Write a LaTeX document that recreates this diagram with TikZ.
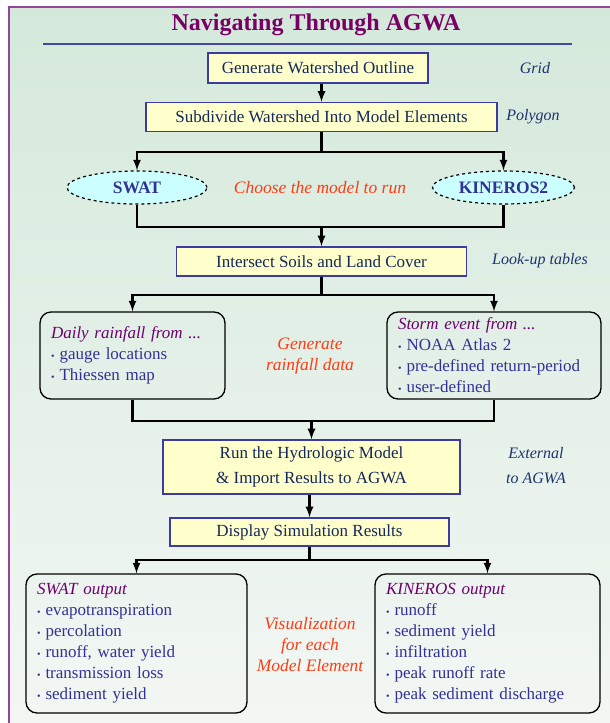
\documentclass[tikz,border=0pt]{standalone}
\usepackage{fontspec}
\setmainfont{Liberation Serif}
\usetikzlibrary{shapes.geometric,arrows,positioning}

\definecolor{framecol}{RGB}{150,70,150}
\definecolor{bgtop}{RGB}{212,233,219}
\definecolor{bgbottom}{RGB}{243,247,244}
\definecolor{titlecol}{RGB}{120,0,100}
\definecolor{rulecol}{RGB}{70,70,170}
\definecolor{boxfill}{RGB}{255,255,204}
\definecolor{boxline}{RGB}{60,60,160}
\definecolor{boxtext}{RGB}{20,40,90}
\definecolor{ellfill}{RGB}{204,255,255}
\definecolor{elltext}{RGB}{50,50,150}
\definecolor{notecol}{RGB}{30,50,110}
\definecolor{redcol}{RGB}{255,60,20}
\definecolor{headcol}{RGB}{110,0,110}
\definecolor{itemcol}{RGB}{50,50,150}

\newcommand{\headtxt}[1]{{\color{headcol}\itshape #1}}
\newcommand{\itm}[1]{{\color{itemcol}{\fontsize{10}{10}\selectfont\textbullet}\hspace{5pt}#1}}

\begin{document}
\begin{tikzpicture}[x=1pt,y=-1pt,>=latex,
    wire/.style={line width=2.6pt},
    stepbox/.style={draw=boxline,line width=1.6pt,fill=boxfill,text=boxtext,
      font=\fontsize{17}{25}\selectfont,inner sep=0pt,align=center},
    modelell/.style={ellipse,draw=black,dashed,line width=1.2pt,fill=ellfill,
      text=elltext,font=\fontsize{17.5}{19}\selectfont\bfseries,inner sep=0pt,
      minimum width=140pt,minimum height=33pt},
    listbox/.style={draw=black,line width=1.3pt,rounded corners=11pt,inner xsep=11pt,
      inner ysep=0pt,align=left,font=\fontsize{17}{21}\selectfont},
    sidenote/.style={text=notecol,font=\fontsize{16}{25}\selectfont\itshape,align=center},
    rednote/.style={text=redcol,font=\fontsize{17.5}{21}\selectfont\itshape,align=center}
  ]
  \useasboundingbox (0,0) rectangle (610,723);
  \shade[top color=bgtop,bottom color=bgbottom] (9,7) rectangle (616,730);
  \draw[framecol,line width=1.8pt] (9,730) -- (9,7) -- (616,7);

  \node[text=titlecol,font=\fontsize{24}{26}\selectfont\bfseries] (title) at (316,25) {Navigating Through AGWA};
  \draw[rulecol,line width=1.2pt] (43,44) -- (572,44);

  \node[stepbox,minimum width=220pt,minimum height=30pt] (outline) at (318,68) {Generate Watershed Outline};
  \node[stepbox,minimum width=351pt,minimum height=29pt] (subdiv) at (321.5,117) {Subdivide Watershed Into Model Elements};
  \node[modelell] (swat) at (137,187.5) {SWAT};
  \node[modelell,minimum width=142pt] (kineros) at (503.5,187.5) {KINEROS2};
  \node[stepbox,minimum width=290pt,minimum height=29pt] (soils) at (321.5,261.5) {Intersect Soils and Land Cover};
  \node[listbox,minimum width=185pt,minimum height=87pt,text width=163pt] (daily) at (132.5,355.5)
    {\headtxt{Daily rainfall from ...}\\ \itm{gauge locations}\\ \itm{Thiessen map}};
  \node[listbox,minimum width=214pt,minimum height=87pt,text width=192pt] (storm) at (494,355.5)
    {\headtxt{Storm event from ...}\\ \itm{NOAA Atlas 2}\\ \itm{pre-defined return-period}\\ \itm{user-defined}};
  \node[stepbox,minimum width=297pt,minimum height=54pt] (runmod) at (311.5,467)
    {Run the Hydrologic Model\\ \& Import Results to AGWA};
  \node[stepbox,minimum width=279pt,minimum height=28pt] (display) at (309.5,532) {Display Simulation Results};
  \node[listbox,minimum width=221pt,minimum height=139pt,text width=199pt] (swatout) at (136.5,643.5)
    {\headtxt{SWAT output}\\ \itm{evapotranspiration}\\ \itm{percolation}\\ \itm{runoff, water yield}\\
     \itm{transmission loss}\\ \itm{sediment yield}};
  \node[listbox,minimum width=225pt,minimum height=139pt,text width=203pt] (kinout) at (487.5,643.5)
    {\headtxt{KINEROS output}\\ \itm{runoff}\\ \itm{sediment yield}\\ \itm{infiltration}\\
     \itm{peak runoff rate}\\ \itm{peak sediment discharge}};

  \node[sidenote] (grid) at (535,68) {Grid};
  \node[sidenote] (poly) at (533,117) {Polygon};
  \node[sidenote] (lookup) at (540,261) {Look-up tables};
  \node[sidenote] (extern) at (536,466) {External\\to AGWA};
  \node[rednote] (choose) at (320,187.5) {Choose the model to run};
  \node[rednote] (genrain) at (310,356) {Generate\\rainfall data};
  \node[rednote] (visual) at (310,645) {Visualization\\for each\\Model Element};

  \coordinate (split1) at (321.5,152);
  \coordinate (join1) at (321.5,227);
  \coordinate (split2) at (321.5,295);
  \coordinate (join2) at (311.5,421);
  \coordinate (split3) at (309.5,560);

  \draw[wire,->] (outline.south -| subdiv.north) -- (subdiv.north);
  \draw[wire] (subdiv.south) -- (split1);
  \draw[wire,->] (split1) -| (swat.north);
  \draw[wire,->] (split1) -| (kineros.north);
  \draw[wire] (swat.south) |- (join1);
  \draw[wire] (kineros.south) |- (join1);
  \draw[wire,->] (join1) -- (soils.north);
  \draw[wire] (soils.south) -- (split2);
  \draw[wire,->] (split2) -| (daily.north);
  \draw[wire,->] (split2) -| (storm.north);
  \draw[wire] (daily.south) |- (join2);
  \draw[wire] (storm.south) |- (join2);
  \draw[wire,->] (join2) -- (runmod.north);
  \draw[wire,->] (runmod.south -| display.north) -- (display.north);
  \draw[wire] (display.south) -- (split3);
  \draw[wire,->] (split3) -| (swatout.north);
  \draw[wire,->] (split3) -| (kinout.north);
\end{tikzpicture}
\end{document}
